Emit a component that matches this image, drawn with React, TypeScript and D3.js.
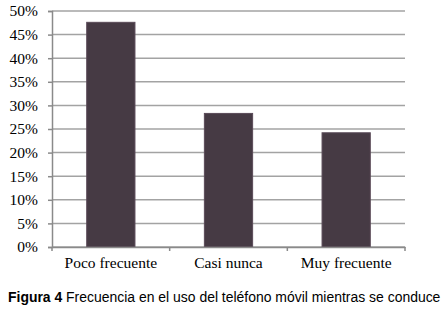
import { useEffect, useRef } from 'react'
import * as d3 from 'd3'

const categories = ['Poco frecuente', 'Casi nunca', 'Muy frecuente']
const values = [47.6, 28.3, 24.2]
const yTicks = [0, 5, 10, 15, 20, 25, 30, 35, 40, 45, 50]

function App() {
  const svgRef = useRef<SVGSVGElement>(null)

  useEffect(() => {
    const width = 448
    const height = 312
    const margin = { top: 11, right: 43, bottom: 65, left: 52 }
    const serif = '"Liberation Serif", "Times New Roman", serif'

    const svg = d3.select(svgRef.current)
    svg.selectAll('*').remove()

    const x = d3.scaleBand()
      .domain(categories)
      .range([margin.left, width - margin.right])
      .paddingInner(0.59)
      .paddingOuter(0.295)

    const y = d3.scaleLinear()
      .domain([0, 50])
      .range([height - margin.bottom, margin.top])

    // gridlines
    svg.append('g')
      .selectAll('line')
      .data(yTicks)
      .join('line')
      .attr('x1', margin.left)
      .attr('x2', width - margin.right)
      .attr('y1', d => y(d))
      .attr('y2', d => y(d))
      .attr('stroke', '#a3a3a3')
      .attr('stroke-width', 1.5)

    // bars
    svg.append('g')
      .selectAll('rect')
      .data(values)
      .join('rect')
      .attr('x', (_, i) => x(categories[i])!)
      .attr('y', d => y(d))
      .attr('width', x.bandwidth())
      .attr('height', d => y(0) - y(d))
      .attr('fill', '#463a44')
      .attr('stroke', '#5a4a58')
      .attr('stroke-width', 1)

    // x axis
    const gx = svg.append('g')
      .attr('transform', `translate(0,${y(0)})`)
      .call(d3.axisBottom(x).tickSize(0).tickPadding(10))
    gx.select('.domain').attr('stroke', '#8a8a8a').attr('stroke-width', 1.5)
    gx.selectAll('text')
      .attr('font-family', serif)
      .attr('font-size', 15.5)
      .attr('fill', '#000')

    // category separator ticks
    const bandW = (width - margin.left - margin.right) / categories.length
    svg.append('g')
      .selectAll('line')
      .data(d3.range(categories.length + 1))
      .join('line')
      .attr('x1', i => margin.left + i * bandW)
      .attr('x2', i => margin.left + i * bandW)
      .attr('y1', y(0))
      .attr('y2', y(0) + 4)
      .attr('stroke', '#8a8a8a')
      .attr('stroke-width', 1.5)

    // y axis
    const gy = svg.append('g')
      .attr('transform', `translate(${margin.left},0)`)
      .call(d3.axisLeft(y)
        .tickValues(yTicks)
        .tickSize(4)
        .tickPadding(10)
        .tickFormat(d => `${d}%`))
    gy.select('.domain').attr('stroke', '#8a8a8a').attr('stroke-width', 1.5)
    gy.selectAll('.tick line').attr('stroke', '#8a8a8a').attr('stroke-width', 1.5)
    gy.selectAll('text')
      .attr('font-family', serif)
      .attr('font-size', 15.5)
      .attr('fill', '#000')

    // caption, squeezed horizontally to the reference width
    const cap = svg.append('text')
      .attr('x', 0)
      .attr('y', 0)
      .attr('font-family', '"Liberation Sans", Arial, sans-serif')
      .attr('font-size', 15)
      .attr('fill', '#000')
    cap.append('tspan').attr('font-weight', 'bold').text('Figura 4')
    cap.append('tspan').text(' Frecuencia en el uso del teléfono móvil mientras se conduce')
    const natural = (cap.node() as SVGTextElement).getComputedTextLength() || 480
    const sx = Math.min(1, 433 / natural)
    cap.attr('transform', `translate(8,302) scale(${sx},1)`)
  }, [])

  return (
    <svg
      ref={svgRef}
      width={448}
      height={312}
      style={{ position: 'absolute', left: 0, top: 0, background: '#fff' }}
    ></svg>
  )
}

export default App
